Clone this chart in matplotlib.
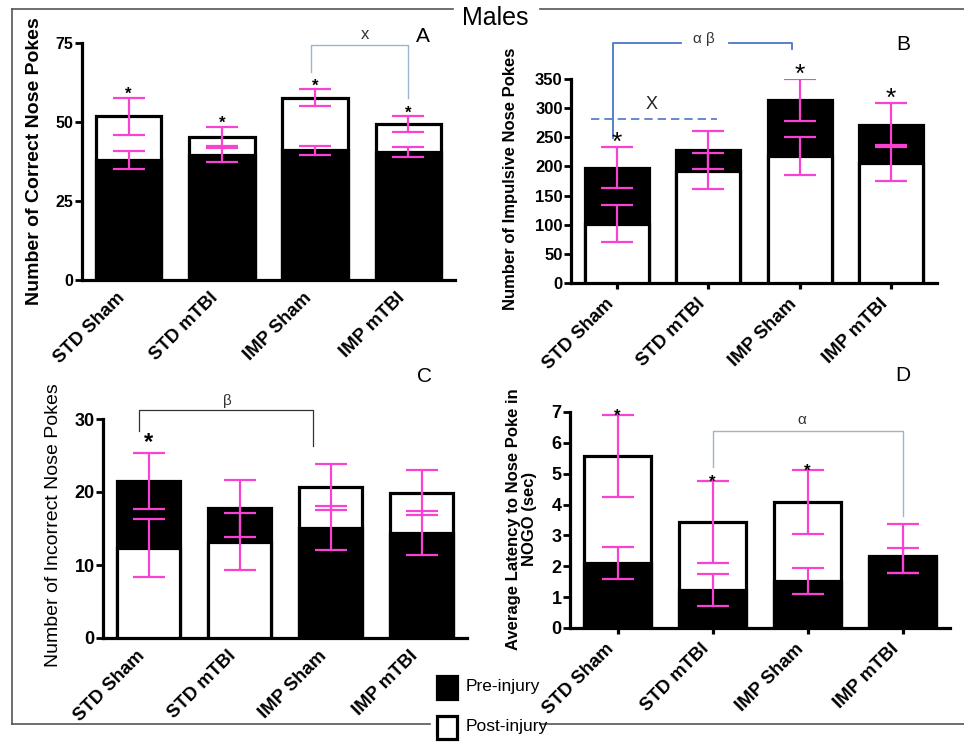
import numpy as np
import matplotlib
matplotlib.use('Agg')
import matplotlib.pyplot as plt
from matplotlib import font_manager
from matplotlib.lines import Line2D
from matplotlib.patches import Rectangle

plt.rcParams['font.family'] = ['Liberation Sans', 'DejaVu Sans']
installed = {f.name for f in font_manager.fontManager.ttflist}
narrow = 'Liberation Sans Narrow' if 'Liberation Sans Narrow' in installed else 'Liberation Sans'

groups = ['STD Sham', 'STD mTBI', 'IMP Sham', 'IMP mTBI']

# A - correct nose pokes
correct_pre = [38.0, 39.5, 41.0, 40.5]
correct_post = [51.8, 45.4, 57.7, 49.3]
correct_pre_err = [2.9, 2.2, 1.4, 1.5]
correct_post_err = [5.9, 3.1, 2.6, 2.6]
correct_stars = [1, 1, 1, 1]

# B - impulsive nose pokes
impulsive_pre = [198, 228, 314, 271]
impulsive_post = [102, 192, 218, 206]
impulsive_pre_err = [35, 33, 36, 37]
impulsive_post_err = [32, 31, 32, 31]
impulsive_stars = [1, 0, 1, 1]

# C - incorrect nose pokes
incorrect_pre = [21.5, 17.8, 15.05, 14.35]
incorrect_post = [12.3, 13.2, 20.7, 19.9]
incorrect_pre_err = [3.8, 3.9, 3.0, 3.0]
incorrect_post_err = [4.0, 3.9, 3.1, 3.1]
incorrect_stars = [1, 0, 0, 0]

# D - latency in NOGO (lower, upper errors)
latency_pre = [2.12, 1.22, 1.52, 2.34]
latency_post = [5.57, 3.43, 4.08, 2.27]
latency_pre_err = [[0.52, 0.52, 0.41, 0.55], [0.52, 0.52, 0.41, 1.02]]
latency_post_err = [[1.33, 1.33, 1.03, 0.48], [1.33, 1.33, 1.03, 0.33]]
latency_stars = [1, 1, 1, 0]

W, H = 964, 742
MAGENTA = '#f742d2'


def fx(px):
    return px / W


def fy(py):
    return 1 - py / H


def upper(err, i):
    e = np.asarray(err)
    return e[1][i] if e.ndim == 2 else e[i]


def draw_panel(ax, pre, post, pre_err, post_err, stars, ymax, ystep, ylabel,
               tick_fs, label_kw, label_xy, xticks_marks, star_fs, star_off,
               star_weight='bold', pre_front=False):
    x = np.arange(len(groups))
    for i in range(len(groups)):
        black_front = pre_front or pre[i] <= post[i]
        ax.bar(x[i], post[i], 0.7, color='white', edgecolor='black', linewidth=2.3,
               zorder=3 if not black_front else 2)
        ax.bar(x[i], pre[i], 0.7, color='black', edgecolor='black', linewidth=2.3,
               zorder=3 if black_front else 2)
    for vals, err in ((pre, pre_err), (post, post_err)):
        ax.errorbar(x, vals, yerr=err, fmt='none', ecolor=MAGENTA, elinewidth=1.6,
                    capsize=11.5, capthick=1.6, zorder=5)
    for i in range(len(groups)):
        if stars[i]:
            top = max(pre[i] + upper(pre_err, i), post[i] + upper(post_err, i))
            ax.annotate('*', xy=(x[i], top), xytext=(0, star_off), textcoords='offset points',
                        ha='center', va='baseline', fontsize=star_fs, fontweight=star_weight,
                        annotation_clip=False, zorder=6)
    ax.set_xlim(-0.5, 3.5)
    ax.set_ylim(0, ymax)
    ax.set_yticks(np.arange(0, ymax + 0.1, ystep))
    ax.set_xticks(x)
    ax.set_xticklabels(groups, rotation=45, ha='right', fontweight='bold', fontsize=13.3)
    for lab in ax.get_yticklabels():
        lab.set_fontweight('bold')
        lab.set_fontsize(tick_fs)
    for s in ('top', 'right'):
        ax.spines[s].set_visible(False)
    for s in ('left', 'bottom'):
        ax.spines[s].set_linewidth(2.3)
    ax.tick_params(axis='y', length=5, width=2, pad=1)
    if xticks_marks:
        ax.tick_params(axis='x', length=4, width=2.3, pad=5)
    else:
        ax.tick_params(axis='x', length=0, pad=7)
    ax.set_ylabel(ylabel, **label_kw)
    ax.yaxis.set_label_coords(*label_xy)


fig = plt.figure(figsize=(W / 100, H / 100), dpi=100)

axA = fig.add_axes([fx(82), fy(280), fx(455 - 82), (280 - 43) / H])
axB = fig.add_axes([fx(571), fy(283), fx(937 - 571), (283 - 79) / H])
axC = fig.add_axes([fx(103), fy(638), fx(467 - 103), (638 - 419) / H])
axD = fig.add_axes([fx(570), fy(628), fx(950 - 570), (628 - 412) / H])

draw_panel(axA, correct_pre, correct_post, correct_pre_err, correct_post_err, correct_stars,
           75, 25, 'Number of Correct Nose Pokes', 11.5,
           dict(fontsize=14, fontweight='bold'), (-0.105, 0.5), False, 12, -1)
draw_panel(axB, impulsive_pre, impulsive_post, impulsive_pre_err, impulsive_post_err,
           impulsive_stars, 350, 50, 'Number of Impulsive Nose Pokes', 12,
           dict(fontsize=12, fontweight='bold'), (-0.144, 0.51), True, 19, -2,
           star_weight='normal')
draw_panel(axC, incorrect_pre, incorrect_post, incorrect_pre_err, incorrect_post_err,
           incorrect_stars, 30, 10, 'Number of Incorrect Nose Pokes', 13,
           dict(fontsize=14), (-0.112, 0.514), False, 17, 3)
draw_panel(axD, latency_pre, latency_post, latency_pre_err, latency_post_err, latency_stars,
           7, 1, 'Average Latency to Nose Poke in\nNOGO (sec)', 13,
           dict(fontsize=12, fontweight='bold', linespacing=1.05), (-0.088, 0.506), True, 12, -4,
           pre_front=True)

# significance brackets
BLUE = '#4a76c4'
LIGHT = '#9bb6cc'
axA.plot([1.96, 1.96, 3.0, 3.0], [65.9, 74.3, 74.3, 57.6], color=LIGHT, lw=1.0, clip_on=False)
axA.text(2.54, 77.7, 'x', ha='center', va='center', fontsize=12, color='#333333')

axB.plot([-0.04, -0.04, 0.70], [248, 412, 412], color=BLUE, lw=1.3, clip_on=False)
axB.plot([1.23, 1.92, 1.92], [412, 412, 401], color=BLUE, lw=1.3, clip_on=False)
axB.text(0.95, 418, 'α β', ha='center', va='center', fontsize=11, color='#333333')
axB.plot([-0.28, 1.1], [281, 281], color=BLUE, lw=1.2, ls=(0, (5, 3)), clip_on=False)
axB.text(0.38, 307, 'X', ha='center', va='center', fontsize=13, color='#222222')

axC.plot([-0.1, -0.1, 1.81, 1.81], [28.3, 31.2, 31.2, 26.3], color='#333333', lw=0.9,
         clip_on=False)
axC.text(0.87, 32.5, 'β', ha='center', va='center', fontsize=11, color='#333333')

axD.plot([1.0, 1.0, 3.0, 3.0], [5.22, 6.38, 6.38, 3.62], color=LIGHT, lw=1.0, clip_on=False)
axD.text(1.94, 6.75, 'α', ha='center', va='center', fontsize=11, color='#333333')

# panel letters and title
for letter, px, py in (('A', 423, 37), ('B', 903, 44), ('C', 424, 377), ('D', 903, 376)):
    fig.text(fx(px), fy(py), letter, ha='center', va='center', fontsize=15)
fig.text(fx(495), fy(18), 'Males', ha='center', va='center', fontsize=18)

# frame
FRAME = '#555555'
for xs, ys in (([12, 12], [9, 724]), ([12, 453], [9, 9]), ([540, 964], [9, 9]),
               ([12, 430], [724, 724]), ([540, 964], [724, 724])):
    fig.add_artist(Line2D([fx(v) for v in xs], [fy(v) for v in ys], color=FRAME, lw=1.2))

# legend
for label, face, py in (('Pre-injury', 'black', 687), ('Post-injury', 'white', 727)):
    fig.add_artist(Rectangle((fx(437), fy(py + 12)), fx(20), 23 / H, facecolor=face,
                             edgecolor='black', linewidth=2.3, transform=fig.transFigure))
    fig.text(fx(466), fy(py), label, ha='left', va='center', fontsize=12.5, family=narrow)

fig.savefig('out.png', dpi=100)
